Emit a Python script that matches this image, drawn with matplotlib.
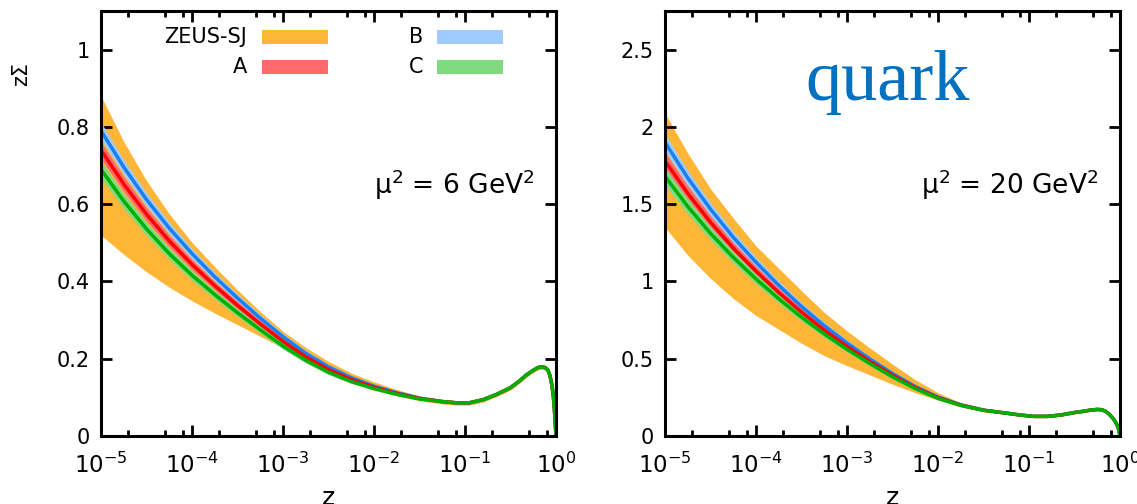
import numpy as np
import matplotlib
matplotlib.use('Agg')
import matplotlib.pyplot as plt
from matplotlib.patches import Rectangle
from matplotlib.ticker import FixedLocator, LogFormatterMathtext, NullFormatter, LogLocator

plt.rcParams['font.family'] = ['DejaVu Sans']
plt.rcParams['mathtext.fontset'] = 'dejavusans'

# ---------------- data ----------------
log_z = [-5, -4.75, -4.5, -4.25, -4, -3.75, -3.5, -3.25, -3, -2.75, -2.5, -2.25, -2,
         -1.75, -1.5, -1.25, -1.1, -0.95, -0.8, -0.65, -0.5, -0.4, -0.32, -0.25,
         -0.2, -0.16, -0.12, -0.09, -0.065, -0.045, -0.03, -0.018, -0.009, 0]

# panel 1: mu^2 = 6 GeV^2
p1_zeus_hi = [0.88, 0.762, 0.661, 0.575, 0.501, 0.438, 0.378, 0.322, 0.271, 0.229, 0.193, 0.163, 0.140,
              0.120, 0.104, 0.095, 0.092, 0.092, 0.100, 0.114, 0.131, 0.149, 0.165, 0.176,
              0.183, 0.185, 0.183, 0.177, 0.161, 0.138, 0.111, 0.076, 0.041, 0.006]
p1_zeus_lo = [0.52, 0.47, 0.425, 0.385, 0.35, 0.318, 0.288, 0.258, 0.228, 0.198, 0.168, 0.140, 0.118,
              0.104, 0.091, 0.083, 0.080, 0.080, 0.088, 0.102, 0.119, 0.137, 0.153, 0.164,
              0.171, 0.173, 0.171, 0.165, 0.149, 0.126, 0.099, 0.064, 0.029, 0.0]
p1_A = [0.74, 0.652, 0.574, 0.505, 0.444, 0.389, 0.338, 0.29, 0.245, 0.205, 0.172, 0.146, 0.126,
        0.110, 0.097, 0.089, 0.086, 0.086, 0.094, 0.108, 0.125, 0.143, 0.159, 0.170,
        0.177, 0.179, 0.177, 0.171, 0.155, 0.132, 0.105, 0.070, 0.035, 0.0]
p1_B = [0.79, 0.696, 0.612, 0.538, 0.472, 0.412, 0.357, 0.305, 0.257, 0.214, 0.179, 0.151, 0.129,
        0.112, 0.098, 0.089, 0.086, 0.086, 0.094, 0.108, 0.125, 0.143, 0.159, 0.170,
        0.177, 0.179, 0.177, 0.171, 0.155, 0.132, 0.105, 0.070, 0.035, 0.0]
p1_C = [0.69, 0.608, 0.536, 0.472, 0.416, 0.366, 0.319, 0.275, 0.233, 0.196, 0.165, 0.141, 0.123,
        0.108, 0.096, 0.089, 0.086, 0.086, 0.094, 0.108, 0.125, 0.143, 0.159, 0.170,
        0.177, 0.179, 0.177, 0.171, 0.155, 0.132, 0.105, 0.070, 0.035, 0.0]
p1_err = [0.022, 0.019, 0.017, 0.015, 0.013, 0.011, 0.010, 0.009, 0.008, 0.007, 0.006, 0.005, 0.004,
          0.004, 0.003, 0.003, 0.003, 0.003, 0.003, 0.003, 0.003, 0.003, 0.003, 0.003,
          0.003, 0.003, 0.003, 0.003, 0.003, 0.003, 0.003, 0.003, 0.003, 0.003]

# panel 2: mu^2 = 20 GeV^2
p2_zeus_hi = [2.09, 1.83, 1.60, 1.41, 1.23, 1.085, 0.94, 0.80, 0.68, 0.57, 0.465, 0.365, 0.280,
              0.215, 0.177, 0.158, 0.146, 0.137, 0.137, 0.146, 0.162, 0.170, 0.178, 0.182,
              0.180, 0.170, 0.152, 0.133, 0.115, 0.096, 0.078, 0.058, 0.038, 0.010]
p2_zeus_lo = [1.35, 1.17, 1.02, 0.89, 0.78, 0.69, 0.60, 0.52, 0.455, 0.395, 0.335, 0.28, 0.232,
              0.190, 0.159, 0.140, 0.128, 0.119, 0.119, 0.128, 0.144, 0.152, 0.160, 0.164,
              0.162, 0.152, 0.134, 0.115, 0.097, 0.078, 0.060, 0.040, 0.020, 0.0]
p2_A = [1.78, 1.57, 1.383, 1.216, 1.066, 0.928, 0.801, 0.685, 0.58, 0.483, 0.393, 0.313, 0.248,
        0.200, 0.167, 0.148, 0.136, 0.127, 0.127, 0.136, 0.152, 0.160, 0.168, 0.172,
        0.170, 0.160, 0.142, 0.123, 0.105, 0.086, 0.068, 0.048, 0.028, 0.0]
p2_B = [1.90, 1.67, 1.468, 1.286, 1.124, 0.975, 0.838, 0.714, 0.602, 0.499, 0.404, 0.32, 0.252,
        0.202, 0.168, 0.148, 0.136, 0.127, 0.127, 0.136, 0.152, 0.160, 0.168, 0.172,
        0.170, 0.160, 0.142, 0.123, 0.105, 0.086, 0.068, 0.048, 0.028, 0.0]
p2_C = [1.68, 1.485, 1.311, 1.156, 1.016, 0.888, 0.769, 0.66, 0.561, 0.469, 0.383, 0.307, 0.244,
        0.198, 0.166, 0.148, 0.136, 0.127, 0.127, 0.136, 0.152, 0.160, 0.168, 0.172,
        0.170, 0.160, 0.142, 0.123, 0.105, 0.086, 0.068, 0.048, 0.028, 0.0]
p2_err = [0.055, 0.048, 0.042, 0.037, 0.032, 0.028, 0.025, 0.022, 0.019, 0.016, 0.014, 0.012, 0.010,
          0.009, 0.008, 0.007, 0.007, 0.007, 0.007, 0.007, 0.007, 0.007, 0.007, 0.007,
          0.007, 0.007, 0.007, 0.007, 0.007, 0.007, 0.007, 0.007, 0.007, 0.007]

series_labels = ['ZEUS-SJ', 'A', 'B', 'C']
p1_yticks = [0, 0.2, 0.4, 0.6, 0.8, 1]
p1_yticklabels = ['0', '0.2', '0.4', '0.6', '0.8', '1']
p2_yticks = [0, 0.5, 1, 1.5, 2, 2.5]
p2_yticklabels = ['0', '0.5', '1', '1.5', '2', '2.5']
scale_texts = [r'$\mathregular{\mu^2}$ = 6 GeV$\mathregular{^2}$',
               r'$\mathregular{\mu^2}$ = 20 GeV$\mathregular{^2}$']

# ---------------- styling ----------------
ORANGE = '#FFB637'
LIGHT = {'A': '#FF6B6B', 'B': '#9FCBFF', 'C': '#80DA80'}
DARK = {'A': '#FF0000', 'B': '#1A80F0', 'C': '#00B000'}

z = 10.0 ** np.array(log_z)

fig = plt.figure(figsize=(11.37, 5.04), dpi=100)
W, H = 1137.0, 504.0
ax1 = fig.add_axes([101 / W, 1 - 436 / H, 455 / W, 425 / H])
ax2 = fig.add_axes([665 / W, 1 - 436 / H, 455 / W, 425 / H])


def draw_panel(ax, hi, lo, A, B, C, err, ymax, yticks, yticklabels, label):
    hi, lo, A, B, C, err = map(np.array, (hi, lo, A, B, C, err))
    ax.fill_between(z, lo, hi, color=ORANGE, lw=0, zorder=1)
    for name, v in (('B', B), ('A', A), ('C', C)):
        ax.fill_between(z, v - err, v + err, color=LIGHT[name], lw=0, zorder=2)
    for name, v in (('B', B), ('A', A), ('C', C)):
        ax.plot(z, v, color=DARK[name], lw=2.5, zorder=3, solid_joinstyle='round')
    ax.set_xscale('log')
    ax.set_xlim(1e-5, 1)
    ax.set_ylim(0, ymax)
    ax.xaxis.set_major_locator(FixedLocator([1e-5, 1e-4, 1e-3, 1e-2, 1e-1, 1]))
    ax.xaxis.set_major_formatter(LogFormatterMathtext())
    ax.xaxis.set_minor_locator(LogLocator(base=10, subs=(2, 5, 8)))
    ax.xaxis.set_minor_formatter(NullFormatter())
    ax.set_yticks(yticks)
    ax.set_yticklabels(yticklabels)
    ax.tick_params(axis='both', which='both', direction='in', top=True, right=True,
                   width=2.0, color='black')
    ax.tick_params(axis='both', which='major', length=8)
    ax.tick_params(axis='x', which='minor', length=4)
    ax.tick_params(axis='x', which='major', labelsize=16.5, pad=12)
    ax.tick_params(axis='y', which='major', labelsize=15, pad=8)
    ax.yaxis.set_minor_locator(FixedLocator([]))
    for s in ax.spines.values():
        s.set_linewidth(2.2)
        s.set_zorder(4)
    ax.text(0.952, 0.57, label, transform=ax.transAxes, ha='right', va='baseline',
            fontsize=19)


draw_panel(ax1, p1_zeus_hi, p1_zeus_lo, p1_A, p1_B, p1_C, p1_err, 1.1,
           p1_yticks, p1_yticklabels, scale_texts[0])
draw_panel(ax2, p2_zeus_hi, p2_zeus_lo, p2_A, p2_B, p2_C, p2_err, 2.75,
           p2_yticks, p2_yticklabels, scale_texts[1])


def px_to_ax(x, y):
    return ((x - 101) / 455.0, (436 - y) / 425.0)


leg_items = [
    (series_labels[0], ORANGE, 247, 262, 30),
    (series_labels[1], LIGHT['A'], 247, 262, 60),
    (series_labels[2], LIGHT['B'], 423, 437, 30),
    (series_labels[3], LIGHT['C'], 423, 437, 60),
]
for text, col, xt, xs, ytop in leg_items:
    x0, y0 = px_to_ax(xs, ytop + 14)
    ax1.add_patch(Rectangle((x0, y0), 66 / 455.0, 14 / 425.0, transform=ax1.transAxes,
                            facecolor=col, edgecolor='none', zorder=5))
    tx, ty = px_to_ax(xt, ytop + 7)
    ax1.text(tx, ty, text, transform=ax1.transAxes, ha='right', va='center',
             fontsize=15, zorder=5)

# y label
fig.text(21 / W, 1 - 74 / H, 'z\u03a3', rotation=90, ha='center', va='center', fontsize=15)

# x labels
for ax in (ax1, ax2):
    pos = ax.get_position()
    fig.text((pos.x0 + pos.x1) / 2, 1 - 505 / H, 'z', ha='center', va='baseline', fontsize=18)

# "quark"
fig.text(805 / W, 1 - 100 / H, 'quark', family='Liberation Serif', fontsize=52,
         color='#0070C0', ha='left', va='baseline')

fig.savefig('out.png', dpi=100)
